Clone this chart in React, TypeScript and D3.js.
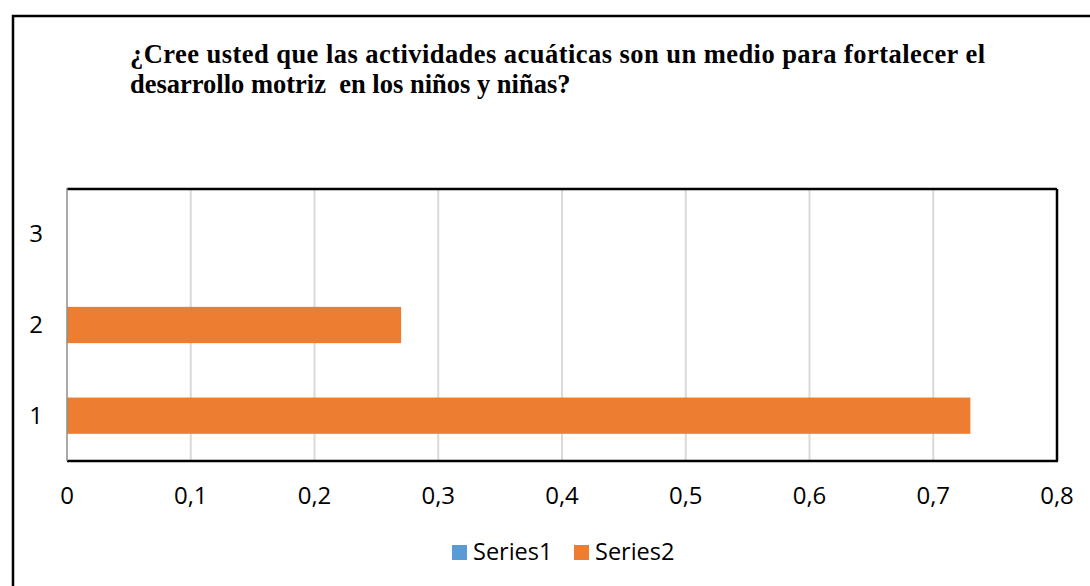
import React from "react";
import * as d3 from "d3";

const categories = ["1", "2", "3"];
const series1 = [0, 0, 0];
const series2 = [0.73, 0.27, 0];
const seriesNames = ["Series1", "Series2"];
const seriesColors = ["#5B9BD5", "#ED7D31"];
const xTicks = [0, 0.1, 0.2, 0.3, 0.4, 0.5, 0.6, 0.7, 0.8];
const titleLines = [
  "¿Cree usted que las actividades acuáticas son un medio para fortalecer el",
  "desarrollo motriz  en los niños y niñas?",
];

const W = 1090;
const H = 586;
const plot = { left: 67, right: 1057, top: 189, bottom: 461 };
const tickFont = "'Open Sans', sans-serif";

export default function App() {
  const x = d3.scaleLinear().domain([0, 0.8]).range([plot.left, plot.right]);
  const y = d3
    .scaleBand<string>()
    .domain([...categories].reverse())
    .range([plot.top, plot.bottom])
    .paddingInner(0.6)
    .paddingOuter(0.3);
  const yCenter = d3
    .scaleBand<string>()
    .domain([...categories].reverse())
    .range([plot.top, plot.bottom]);
  const fmt = (v: number) => String(v).replace(".", ",");
  const allSeries = [series1, series2];

  return (
    <svg
      width={W}
      height={H}
      style={{ position: "absolute", left: 0, top: 0, background: "#fff" }}
    >
      <rect x={0} y={0} width={W} height={H} fill="#fff" />
      <rect x={13} y={16} width={1200} height={700} fill="none" stroke="#000" strokeWidth={2.5} />

      {titleLines.map((t, i) => (
        <text
          key={i}
          x={130}
          y={63 + i * 29.5}
          fontFamily="'Liberation Serif', 'Times New Roman', serif"
          fontWeight="bold"
          fontSize={26.5}
          style={{ whiteSpace: "pre" }}
          textLength={i === 0 ? 855 : undefined}
          lengthAdjust="spacing"
          fill="#000"
        >
          {t}
        </text>
      ))}

      {/* gridlines */}
      {xTicks.slice(1, -1).map((t) => (
        <line
          key={t}
          x1={x(t)}
          x2={x(t)}
          y1={plot.top}
          y2={plot.bottom}
          stroke="#D9D9D9"
          strokeWidth={2}
        />
      ))}

      {/* bars */}
      {allSeries.map((s, si) =>
        s.map((v, ci) =>
          v > 0 ? (
            <rect
              key={`${si}-${ci}`}
              x={x(0)}
              y={y(categories[ci])!}
              width={x(v) - x(0)}
              height={y.bandwidth()}
              fill={seriesColors[si]}
            />
          ) : null
        )
      )}

      {/* plot border */}
      <line x1={plot.left} x2={plot.right} y1={plot.top} y2={plot.top} stroke="#000" strokeWidth={2.5} />
      <line x1={plot.right} x2={plot.right} y1={plot.top} y2={plot.bottom} stroke="#000" strokeWidth={2.5} />
      <line x1={plot.left} x2={plot.right + 1} y1={plot.bottom} y2={plot.bottom} stroke="#000" strokeWidth={2.5} />
      <line x1={plot.left} x2={plot.left} y1={plot.top - 1} y2={plot.bottom} stroke="#8C8C8C" strokeWidth={1.5} />

      {/* x tick labels */}
      {xTicks.map((t) => (
        <text
          key={t}
          x={x(t)}
          y={504}
          textAnchor="middle"
          fontFamily={tickFont}
          fontSize={24}
          fill="#000"
        >
          {fmt(t)}
        </text>
      ))}

      {/* y labels */}
      {categories.map((c) => (
        <text
          key={c}
          x={43}
          y={yCenter(c)! + yCenter.bandwidth() / 2 + 8}
          textAnchor="end"
          fontFamily={tickFont}
          fontSize={24}
          fill="#000"
        >
          {c}
        </text>
      ))}

      {/* legend */}
      {seriesNames.map((n, i) => (
        <g key={n} transform={`translate(${452 + i * 122},0)`}>
          <rect x={0} y={545} width={15} height={15} fill={seriesColors[i]} />
          <text x={21} y={560} fontFamily={tickFont} fontSize={23.5} fill="#000">
            {n}
          </text>
        </g>
      ))}
    </svg>
  );
}
